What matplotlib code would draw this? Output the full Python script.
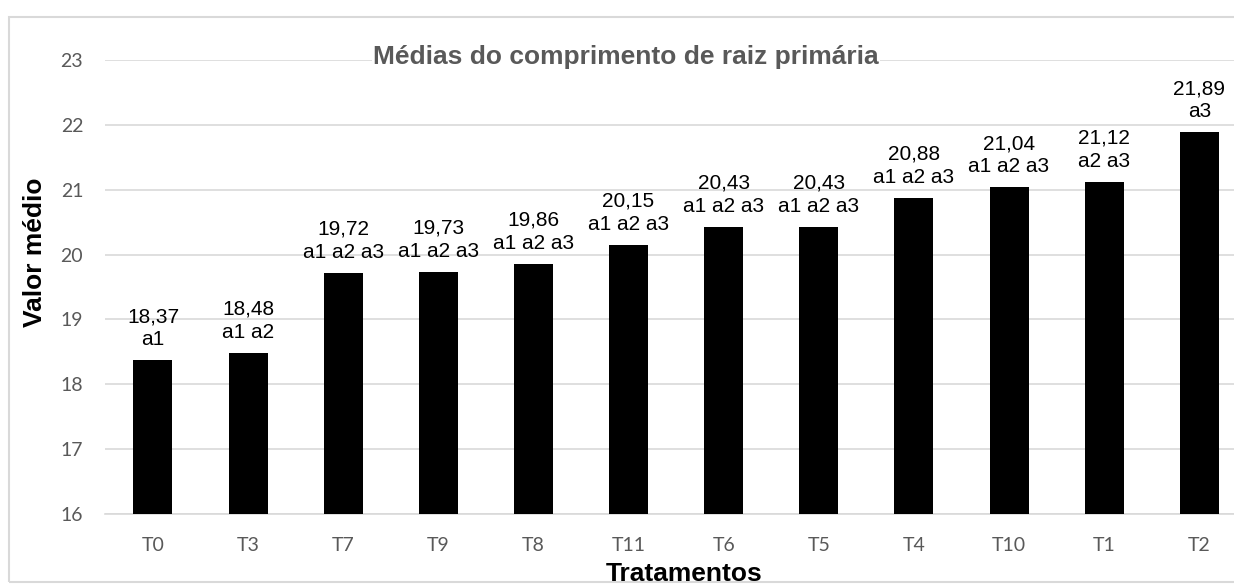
import matplotlib.pyplot as plt
from matplotlib.patches import Rectangle

# data
tratamentos = ['T0', 'T3', 'T7', 'T9', 'T8', 'T11', 'T6', 'T5', 'T4', 'T10', 'T1', 'T2']
medias = [18.37, 18.48, 19.72, 19.73, 19.86, 20.15, 20.43, 20.43, 20.88, 21.04, 21.12, 21.89]
letras = ['a1', 'a1 a2', 'a1 a2 a3', 'a1 a2 a3', 'a1 a2 a3', 'a1 a2 a3',
          'a1 a2 a3', 'a1 a2 a3', 'a1 a2 a3', 'a1 a2 a3', 'a2 a3', 'a3']
yticks = [16, 17, 18, 19, 20, 21, 22, 23]

grid_color = '#d9d9d9'
tick_color = '#595959'

fig = plt.figure(figsize=(12.34, 5.84), dpi=100)
ax = fig.add_axes([0.0854, 0.1204, 0.925, 0.7763])

x = list(range(len(tratamentos)))
ax.bar(x, medias, width=0.41, color='black', zorder=3)

ax.set_xlim(-0.5, len(tratamentos) - 0.5)
ax.set_ylim(16, 23)
ax.set_yticks(yticks)
ax.set_xticks(x)
ax.set_xticklabels(tratamentos)
ax.yaxis.grid(True, color=grid_color, linewidth=1.2, zorder=0)
ax.set_axisbelow(True)
for s in ['top', 'right', 'left']:
    ax.spines[s].set_visible(False)
ax.spines['bottom'].set_color(grid_color)
ax.spines['bottom'].set_linewidth(1.2)
ax.tick_params(axis='both', length=0, labelsize=14, labelcolor=tick_color)
ax.tick_params(axis='y', pad=16)
ax.tick_params(axis='x', pad=17)
for lbl in ax.get_xticklabels() + ax.get_yticklabels():
    lbl.set_family('Lato')

for xi, v, l in zip(x, medias, letras):
    txt = f'{v:.2f}'.replace('.', ',') + '\n' + l
    ax.annotate(txt, (xi, v), xytext=(0, 8), textcoords='offset points',
                ha='center', va='bottom', fontsize=15, family='Liberation Sans',
                linespacing=1.27)

fig.text(626 / 1234, 1 - 64 / 584, 'Médias do comprimento de raiz primária',
         ha='center', va='baseline', fontsize=19, fontweight='bold',
         color=tick_color, family='Liberation Sans',
         bbox=dict(facecolor='white', edgecolor='none', pad=1))
fig.text(35 / 1234, 1 - 252 / 584, 'Valor médio', rotation=90, ha='center', va='center',
         fontsize=19, fontweight='bold', family='Liberation Sans')
fig.text(684 / 1234, 3 / 584, 'Tratamentos', ha='center', va='baseline',
         fontsize=19, fontweight='bold', family='Liberation Sans')

fig.patches.append(Rectangle((8.5 / 1234, 1 - 582 / 584), 1.1, 565 / 584,
                             transform=fig.transFigure, fill=False,
                             edgecolor=grid_color, linewidth=1.5, clip_on=False))

fig.savefig('out.png', dpi=100)
